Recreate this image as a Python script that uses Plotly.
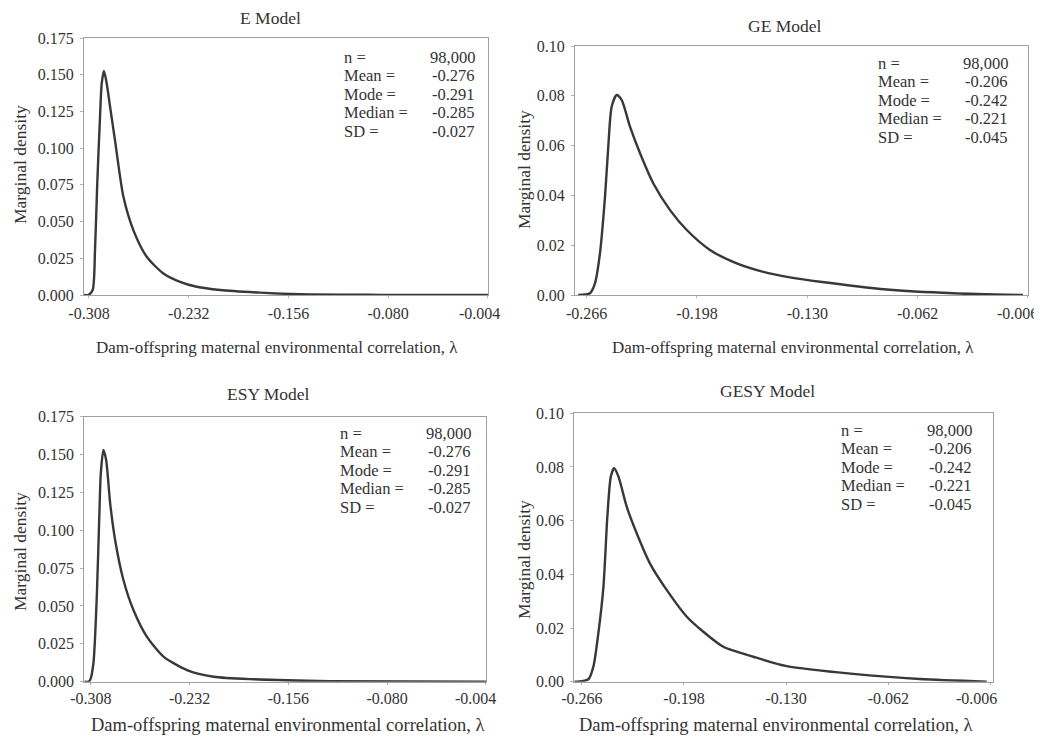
import plotly.graph_objects as go

# ---------------- data ----------------
panel_titles = ["E Model", "GE Model", "ESY Model", "GESY Model"]

e_x = [-0.3118, -0.3085, -0.3052, -0.3034, -0.3017, -0.2996, -0.2983, -0.2966, -0.2945, -0.2920,
       -0.2882, -0.2818, -0.2742, -0.2640, -0.2513, -0.2386, -0.2259, -0.2081, -0.1776, -0.1470,
       -0.0860, -0.0040]
e_y = [0.0, 0.0, 0.0034, 0.0306, 0.0760, 0.1211, 0.1441, 0.1525, 0.1441, 0.1287,
       0.1055, 0.0670, 0.0442, 0.0260, 0.0147, 0.0090, 0.0056, 0.0034, 0.0016, 0.0005,
       0.0001, 0.0]

ge_x = [-0.2712, -0.2640, -0.2609, -0.2578, -0.2547, -0.2527, -0.2506, -0.2475, -0.2444, -0.2393,
        -0.2331, -0.2249, -0.2146, -0.2043, -0.1900, -0.1735, -0.1571, -0.1407, -0.1221, -0.0810,
        -0.0400, 0.0030]
ge_y = [0.0, 0.0007, 0.0047, 0.0168, 0.0395, 0.0595, 0.0756, 0.0803, 0.0783, 0.0676,
        0.0569, 0.0448, 0.0341, 0.0261, 0.0181, 0.0127, 0.0093, 0.0071, 0.0053, 0.0022,
        0.0007, 0.0]

esy_x = [-0.3130, -0.3098, -0.3085, -0.3060, -0.3034, -0.3014, -0.3003, -0.2983, -0.2962, -0.2931,
         -0.2893, -0.2829, -0.2752, -0.2649, -0.2521, -0.2340, -0.2135, -0.1827, -0.1237, -0.0040]
esy_y = [0.0, 0.0, 0.0011, 0.0121, 0.0561, 0.1112, 0.1376, 0.1530, 0.1464, 0.1178,
         0.0936, 0.0672, 0.0474, 0.0298, 0.0166, 0.0077, 0.0033, 0.0016, 0.0003, 0.0]

gesy_x = [-0.2710, -0.2693, -0.2616, -0.2583, -0.2550, -0.2516, -0.2490, -0.2467, -0.2445, -0.2416,
          -0.2361, -0.2294, -0.2206, -0.2094, -0.1961, -0.1851, -0.1718, -0.1518, -0.1296, -0.0853,
          -0.0410, 0.0035]
gesy_y = [0.0, 0.0, 0.0009, 0.0056, 0.0180, 0.0354, 0.0615, 0.0764, 0.0795, 0.0764,
          0.0652, 0.0552, 0.0440, 0.0341, 0.0242, 0.0186, 0.0130, 0.0093, 0.0058, 0.0029,
          0.0010, 0.0]

stat_labels = ["n =", "Mean =", "Mode =", "Median =", "SD ="]
e_stats = ["98,000", "-0.276", "-0.291", "-0.285", "-0.027"]
ge_stats = ["98,000", "-0.206", "-0.242", "-0.221", "-0.045"]
esy_stats = ["98,000", "-0.276", "-0.291", "-0.285", "-0.027"]
gesy_stats = ["98,000", "-0.206", "-0.242", "-0.221", "-0.045"]

e_tickvals = [-0.308, -0.232, -0.156, -0.080, -0.004]
e_ticktext = ["-0.308", "-0.232", "-0.156", "-0.080", "-0.004"]
ge_tickvals = [-0.266, -0.198, -0.130, -0.062, 0.006]
ge_ticktext = ["-0.266", "-0.198", "-0.130", "-0.062", "-0.006"]
e_ytickvals = [0.0, 0.025, 0.05, 0.075, 0.1, 0.125, 0.15, 0.175]
ge_ytickvals = [0.0, 0.02, 0.04, 0.06, 0.08, 0.10]

x_title = "Dam-offspring maternal environmental correlation, λ"
y_title = "Marginal density"

# ---------------- layout helpers ----------------
W, H = 1042, 747
OFF = 8  # page body margin offset of the figure
FONT = "Liberation Serif, Times New Roman, serif"
TXT = "#333333"
LINE = "#383838"


def px_x(p):
    return (p - OFF) / W


def px_y(p):
    return 1 - (p - OFF) / H


# panel boxes in pixels: left, right, top, bottom
boxes = [
    (84, 488, 38, 295),
    (575, 1028, 46, 295),
    (84.3, 486, 416.7, 681.7),
    (574.3, 993.3, 413.3, 681.7),
]
xranges = [[-0.3118, -0.00395], [-0.2732, 0.00605], [-0.313, -0.00395], [-0.271, 0.0079]]
yranges = [[0, 0.175], [0, 0.10], [0, 0.175], [0, 0.10]]
xticks = [(e_tickvals, e_ticktext), (ge_tickvals, ge_ticktext),
          (e_tickvals, e_ticktext), (ge_tickvals, ge_ticktext)]
yticks = [(e_ytickvals, ".3f"), (ge_ytickvals, ".2f"), (e_ytickvals, ".3f"), (ge_ytickvals, ".2f")]
series = [(e_x, e_y), (ge_x, ge_y), (esy_x, esy_y), (gesy_x, gesy_y)]
xstand = [2, 2, 0, 0]
# last x tick label is drawn slightly left of its tick (as in the original)
last_label_shift = [-8, -10, -10, -14]
last_label_y = [313, 313, 698, 698]

fig = go.Figure()
layout = dict(
    width=W, height=H, margin=dict(l=0, r=0, t=0, b=0, autoexpand=False),
    paper_bgcolor="white", plot_bgcolor="white", showlegend=False,
    font=dict(family=FONT, color=TXT, size=15),
)

ann = []
for i, ((xs, ys), box) in enumerate(zip(series, boxes)):
    n = "" if i == 0 else str(i + 1)
    fig.add_trace(go.Scatter(
        x=xs, y=ys, mode="lines", xaxis="x" + n, yaxis="y" + n,
        line=dict(color=LINE, width=2.4, shape="spline", smoothing=0.7),
        hoverinfo="skip",
    ))
    l, r, t, b = box
    tv, tt = xticks[i]
    shown = list(tt[:-1]) + [""]
    layout["xaxis" + n] = dict(
        domain=[px_x(l), px_x(r)], anchor="y" + n, range=xranges[i], automargin=False,
        tickvals=tv, ticktext=shown,
        showgrid=False, zeroline=False, showline=True, mirror=True,
        linecolor="#a0a0a0", linewidth=1, ticks="outside", ticklen=2,
        tickcolor="#b0b0b0", ticklabelstandoff=xstand[i],
        tickfont=dict(family=FONT, size=16, color=TXT),
    )
    layout["yaxis" + n] = dict(
        domain=[px_y(b), px_y(t)], anchor="x" + n, range=yranges[i], automargin=False,
        tickvals=yticks[i][0], tickformat=yticks[i][1],
        showgrid=False, zeroline=False, showline=True, mirror=True,
        linecolor="#a0a0a0", linewidth=1, ticks="outside", ticklen=3,
        tickcolor="#b0b0b0", ticklabelstandoff=3,
        tickfont=dict(family=FONT, size=16, color=TXT),
    )
    ann.append(dict(text=tt[-1], x=tv[-1], xref="x" + n, y=px_y(last_label_y[i]), yref="paper",
                    xanchor="center", yanchor="middle", xshift=last_label_shift[i],
                    showarrow=False, font=dict(family=FONT, size=16, color=TXT)))

fig.update_layout(**layout)

# panel titles (center x px, center y px)
title_pos = [(270, 18), (785, 26), (268, 394), (767, 391)]
for txt, (cx, cy) in zip(panel_titles, title_pos):
    ann.append(dict(text=txt, x=px_x(cx), y=px_y(cy), xref="paper", yref="paper",
                    xanchor="center", yanchor="middle", showarrow=False,
                    font=dict(family=FONT, size=17.5, color=TXT)))

# x titles
xt_pos = [(277, 347, 17), (793, 347, 17), (287, 725, 18.5), (775, 725, 18.5)]
for cx, cy, fs in xt_pos:
    ann.append(dict(text=x_title, x=px_x(cx), y=px_y(cy), xref="paper", yref="paper",
                    xanchor="center", yanchor="middle", showarrow=False,
                    font=dict(family=FONT, size=fs, color=TXT)))

# y titles
yt_pos = [(20, 165), (524, 170), (20, 552), (524, 560)]
for cx, cy in yt_pos:
    ann.append(dict(text=y_title, x=px_x(cx), y=px_y(cy), xref="paper", yref="paper",
                    xanchor="center", yanchor="middle", showarrow=False, textangle=-90,
                    font=dict(family=FONT, size=17.5, color=TXT)))

# stats blocks: label left x, value right x, first row y, row step
stat_pos = [(342, 477, 57, 18.6), (876, 1010, 63, 18.6), (338, 473, 433, 18.5), (839, 974, 430, 18.5)]
for vals, (lx, rx, y0, dy) in zip([e_stats, ge_stats, esy_stats, gesy_stats], stat_pos):
    for k, (lab, v) in enumerate(zip(stat_labels, vals)):
        yy = px_y(y0 + k * dy)
        ann.append(dict(text=lab, x=px_x(lx), y=yy, xref="paper", yref="paper",
                        xanchor="left", yanchor="middle", showarrow=False,
                        font=dict(family=FONT, size=16.5, color=TXT)))
        ann.append(dict(text=v, x=px_x(rx), y=yy, xref="paper", yref="paper",
                        xanchor="right", yanchor="middle", showarrow=False,
                        font=dict(family=FONT, size=16.5, color=TXT)))

fig.update_layout(annotations=ann)
fig.write_html("out.html")
